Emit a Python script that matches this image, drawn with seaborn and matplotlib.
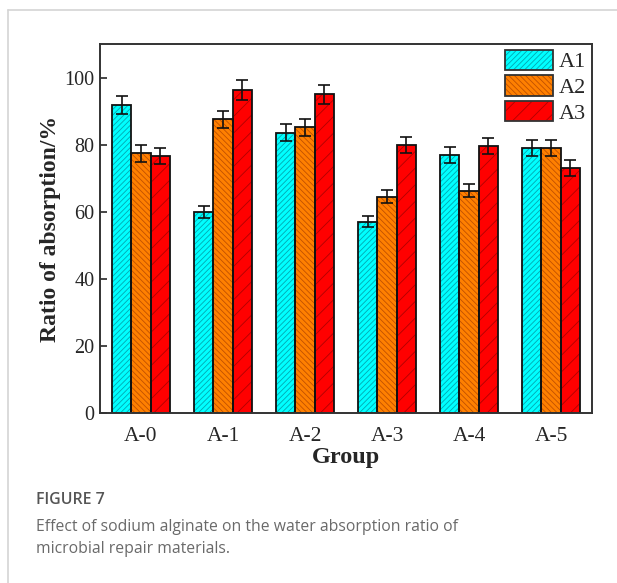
import matplotlib
matplotlib.use("Agg")
import matplotlib.pyplot as plt
import seaborn as sns
import pandas as pd
from matplotlib.patches import Rectangle, Patch
from matplotlib.lines import Line2D

# 数据
groups = ["A-0", "A-1", "A-2", "A-3", "A-4", "A-5"]
series = ["A1", "A2", "A3"]
a1 = [91.7, 60.0, 83.5, 57.0, 76.9, 79.0]
a2 = [77.4, 87.5, 85.1, 64.5, 66.3, 79.0]
a3 = [76.7, 96.3, 95.0, 79.9, 79.7, 73.0]
a1_err = [2.7, 1.8, 2.5, 1.7, 2.4, 2.3]
a2_err = [2.5, 2.6, 2.5, 1.9, 2.0, 2.3]
a3_err = [2.4, 2.9, 2.9, 2.4, 2.4, 2.3]

face_colors = ["#00ffff", "#ff8000", "#ff0000"]
hatch_colors = ["#00a8b0", "#c05000", "#b00000"]
hatches = ["//////", "\\\\\\\\\\\\", "//"]

values = {"A1": a1, "A2": a2, "A3": a3}
errors = {"A1": a1_err, "A2": a2_err, "A3": a3_err}
df = pd.DataFrame(
    [(g, s, values[s][i]) for s in series for i, g in enumerate(groups)],
    columns=["Group", "Series", "Ratio"],
)

sns.set_style("ticks")
plt.rcParams["font.family"] = ["Liberation Serif", "DejaVu Serif"]
plt.rcParams["hatch.linewidth"] = 0.6

fig = plt.figure(figsize=(6.17, 5.83), dpi=100)
ax = fig.add_axes([0.162, 0.2916, 0.7975, 0.633])

sns.barplot(data=df, x="Group", y="Ratio", hue="Series", order=groups,
            hue_order=series, palette=face_colors, width=0.7, saturation=1,
            errorbar=None, linewidth=0, legend=False, ax=ax)

bar_conts = list(ax.containers)
for k, cont in enumerate(bar_conts):
    s = series[k]
    for j, bar in enumerate(cont):
        bar.set_hatch(hatches[k])
        bar.set_edgecolor(hatch_colors[k])
        bar.set_linewidth(0)
        ax.add_patch(Rectangle(bar.get_xy(), bar.get_width(), bar.get_height(),
                               fill=False, edgecolor="#111111", linewidth=1.3,
                               zorder=bar.get_zorder() + 0.1))
        ax.errorbar(bar.get_x() + bar.get_width() / 2, bar.get_height(),
                    yerr=errors[s][j], fmt="none", ecolor="#111111",
                    elinewidth=1.2, capsize=4, capthick=1.2, zorder=5)

ax.set_ylim(0, 110)
ax.set_xlim(-0.5, 5.5)
ax.set_yticks([0, 20, 40, 60, 80, 100])
ax.tick_params(axis="y", direction="in", length=5, width=1.2, labelsize=14.5, pad=4)
ax.tick_params(axis="x", length=0, labelsize=15.5, pad=10)
for sp in ax.spines.values():
    sp.set_visible(True)
    sp.set_linewidth(1.4)
    sp.set_color("#333333")

ax.set_ylabel("Ratio of absorption/%", fontsize=17, fontweight="bold", labelpad=2)
ax.set_xlabel("Group", fontsize=17.5, fontweight="bold", labelpad=1)

handles = []
for k in range(3):
    fill = Patch(facecolor=face_colors[k], edgecolor=hatch_colors[k],
                 hatch=hatches[k], linewidth=0)
    edge = Patch(facecolor="none", edgecolor="#333333", linewidth=1.3)
    handles.append((fill, edge))
ax.legend(handles, series, loc="upper right", frameon=False, fontsize=16,
          handlelength=2.15, handleheight=1.05, labelspacing=0.12,
          handletextpad=0.3, borderaxespad=0.15, borderpad=0.1)

# outer frame of the figure panel
fig.add_artist(Line2D([8 / 617, 1], [1 - 10 / 583, 1 - 10 / 583],
                      color="#d4d4d4", linewidth=1.2))
fig.add_artist(Line2D([8 / 617, 8 / 617], [0, 1 - 10 / 583],
                      color="#d4d4d4", linewidth=1.2))

fig.text(36 / 617, 1 - 500 / 583, "FIGURE 7", fontfamily="Open Sans",
         fontweight="semibold", fontsize=11.4, color="#555555", va="center")
fig.text(36 / 617, 1 - 527 / 583,
         "Effect of sodium alginate on the water absorption ratio of",
         fontfamily="Open Sans", fontsize=11.3, color="#6a6a6a", va="center")
fig.text(36 / 617, 1 - 549 / 583, "microbial repair materials.",
         fontfamily="Open Sans", fontsize=11.3, color="#6a6a6a", va="center")

fig.savefig("out.png", dpi=100)
